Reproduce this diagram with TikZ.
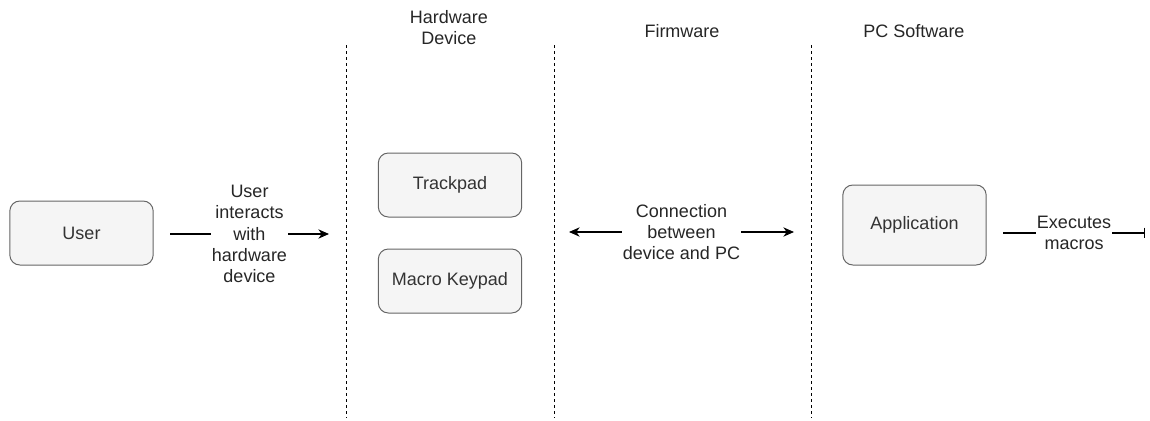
\documentclass[tikz,border=0pt]{standalone}
\usepackage{fontspec}
\setmainfont{Liberation Sans}
\usepackage{xcolor}
\usetikzlibrary{arrows.meta}
\definecolor{boxfill}{HTML}{F5F5F5}
\definecolor{boxline}{HTML}{666666}
\definecolor{boxtext}{HTML}{333333}

\begin{document}
\begin{tikzpicture}[x=0.75pt, y=-0.75pt, font=\fontsize{13.5}{16}\selectfont]
    \tikzstyle{block} = [draw=boxline, fill=boxfill, rounded corners=7.5pt, line width=0.75pt, text=boxtext, minimum width=107.5pt, minimum height=48pt, inner sep=0pt]
    \tikzstyle{lbl} = [fill=white, align=center, inner sep=1pt, text=black!85]
    \tikzstyle{divider} = [line width=0.75pt, dash pattern=on 2.25pt off 2.25pt]
    \tikzstyle{link} = [line width=0.8pt]
    \tikzset{tip/.tip={Stealth[length=8pt, width=7pt, inset=2.5pt]}}
    \useasboundingbox (0,0) rectangle (1150,421);

    % lanes
    \foreach \x in {346, 554, 811} {
        \draw[divider] (\x,45) -- (\x,418);
    }
    \node[align=center, text=black!85] (hwhead) at (449,27.5) {Hardware\\Device};
    \node[text=black!85] (fwhead) at (682,31) {Firmware};
    \node[text=black!85] (pchead) at (914,31) {PC Software};

    % boxes
    \node[block] (user) at (81.5,233) {User};
    \node[block] (trackpad) at (450,185) {Trackpad};
    \node[block] (keypad) at (450,281) {Macro Keypad};
    \node[block, minimum height=60pt] (app) at (914.5,225) {Application};

    % connectors
    \coordinate (usrfrom) at (170,234);
    \coordinate (usrto) at (329,234);
    \coordinate (devside) at (569,232);
    \coordinate (pcside) at (794,232);
    \coordinate (exfrom) at (1003,233);
    \coordinate (exto) at (1145,233);
    \draw[link, -tip] (usrfrom) -- (usrto)
        node[lbl, midway] (usrlbl) {User\\interacts\\with\\hardware\\device};
    \draw[link, tip-tip] (devside) -- (pcside)
        node[lbl, midway] (connlbl) {Connection\\between\\device and PC};
    \draw[link, -{Bar[width=8pt]}] (exfrom) -- (exto)
        node[lbl, midway] (exlbl) {Executes\\macros};
\end{tikzpicture}
\end{document}
